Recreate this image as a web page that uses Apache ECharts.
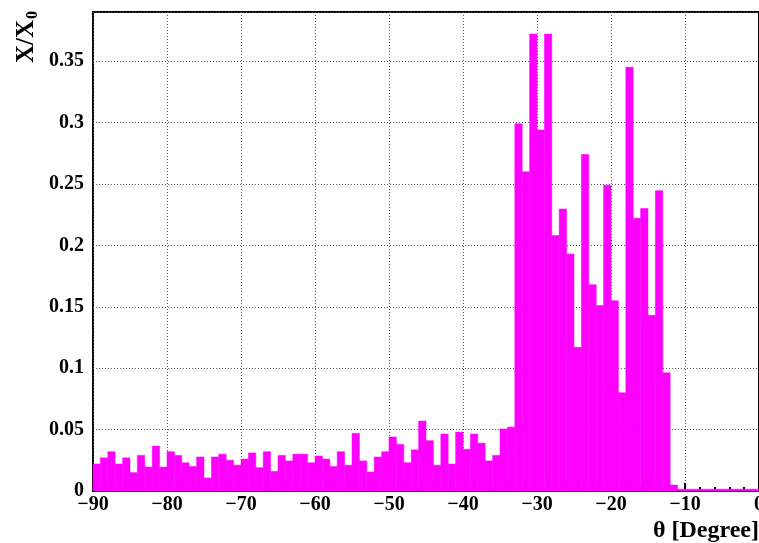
<!DOCTYPE html>
<html>
<head>
<meta charset="utf-8">
<script src="https://cdn.jsdelivr.net/npm/echarts@6/dist/echarts.min.js"></script>
<style>
  html, body { margin: 0; padding: 0; background: #fff; overflow: hidden; }
  #chart { width: 759px; height: 543px; }
</style>
</head>
<body>
<div id="chart"></div>
<script>
// histogram: 1 degree bins from -90 to 0
var binStart = -90;
var binWidth = 1;
var radLength = [
  0.022, 0.027, 0.032, 0.022, 0.027, 0.015, 0.029, 0.0195, 0.0366, 0.0195,
  0.032, 0.029, 0.023, 0.020, 0.0277, 0.0105, 0.0277, 0.030, 0.025, 0.021,
  0.026, 0.031, 0.019, 0.032, 0.016, 0.029, 0.0245, 0.030, 0.030, 0.023,
  0.0285, 0.026, 0.020, 0.032, 0.021, 0.047, 0.0245, 0.0155, 0.0277, 0.032,
  0.044, 0.038, 0.023, 0.0335, 0.057, 0.041, 0.021, 0.0464, 0.022, 0.048,
  0.034, 0.0464, 0.039, 0.0245, 0.029, 0.0505, 0.052, 0.299, 0.260, 0.372,
  0.294, 0.372, 0.208, 0.2296, 0.193, 0.117, 0.274, 0.168, 0.151, 0.249,
  0.155, 0.080, 0.345, 0.222, 0.230, 0.143, 0.2445, 0.0963, 0.0049, 0.0015,
  0.0015, 0.0015, 0.0015, 0.0015, 0.0015, 0.0015, 0.0015, 0.0015, 0.0015, 0.0015
];

var xTicks = [-90, 0, 10];      // min, max, interval
var yTicks = [0, 0.39, 0.05];

var labelFont = { fontFamily: 'Liberation Serif', fontWeight: 'bold', fontSize: 20, color: '#000' };

var histData = [];
for (var i = 0; i < radLength.length; i++) {
  histData.push([binStart + i * binWidth, binStart + (i + 1) * binWidth, radLength[i]]);
}

function minus(v) {
  return v < 0 ? '\u2212' + Math.abs(v) : String(v);
}

var myChart = echarts.init(document.getElementById('chart'), null, { renderer: 'canvas' });

var option = {
  animation: false,
  backgroundColor: '#fff',
  grid: {
    left: 93, right: 0, top: 12, bottom: 52,
    outerBoundsMode: 'none',
    containLabel: false,
    show: true, borderColor: '#000', borderWidth: 2
  },
  xAxis: {
    type: 'value',
    min: xTicks[0], max: xTicks[1], interval: xTicks[2],
    axisLine: { lineStyle: { color: '#000', width: 2 } },
    axisTick: { inside: true, length: 8, lineStyle: { color: '#000', width: 2 } },
    minorTick: { show: true, splitNumber: 5, length: 4, lineStyle: { color: '#000', width: 2 } },
    splitLine: { show: true, lineStyle: { color: '#555', type: [1, 2], width: 1 } },
    axisLabel: Object.assign({ margin: 4, formatter: minus, hideOverlap: false }, labelFont)
  },
  yAxis: {
    type: 'value',
    min: yTicks[0], max: yTicks[1], interval: yTicks[2],
    axisLine: { lineStyle: { color: '#000', width: 2 } },
    axisTick: { inside: true, length: 14, lineStyle: { color: '#000', width: 2 } },
    minorTick: { show: true, splitNumber: 5, length: 7, lineStyle: { color: '#000', width: 2 } },
    splitLine: { show: true, lineStyle: { color: '#555', type: [1, 2], width: 1 } },
    axisLabel: Object.assign({ margin: 9, showMaxLabel: false }, labelFont)
  },
  graphic: [
    {
      type: 'text', x: 27, y: 11, rotation: Math.PI / 2,
      style: {
        text: '{a|X/X}{b|0}',
        align: 'right', verticalAlign: 'middle',
        rich: {
          a: { fontFamily: 'Liberation Serif', fontWeight: 'bold', fontSize: 25, fill: '#000', color: '#000' },
          b: { fontFamily: 'Liberation Serif', fontWeight: 'bold', fontSize: 16, fill: '#000', color: '#000', padding: [12, 0, 0, 1] }
        }
      }
    },
    {
      type: 'text', x: 759, y: 531,
      style: {
        text: '\u03b8 [Degree]',
        align: 'right', verticalAlign: 'middle',
        font: 'bold 24px "Liberation Serif"', fill: '#000'
      }
    }
  ],
  series: [{
    type: 'custom',
    data: histData,
    renderItem: function (params, api) {
      var p0 = api.coord([api.value(0), api.value(2)]);
      var p1 = api.coord([api.value(1), 0]);
      return {
        type: 'rect',
        shape: { x: p0[0], y: p0[1], width: p1[0] - p0[0], height: p1[1] - p0[1] },
        style: { fill: '#ff00ff', stroke: '#ff00ff', lineWidth: 0.5 }
      };
    },
    encode: { x: [0, 1], y: 2 },
    z: 1
  }]
};

myChart.setOption(option);
</script>
</body>
</html>
